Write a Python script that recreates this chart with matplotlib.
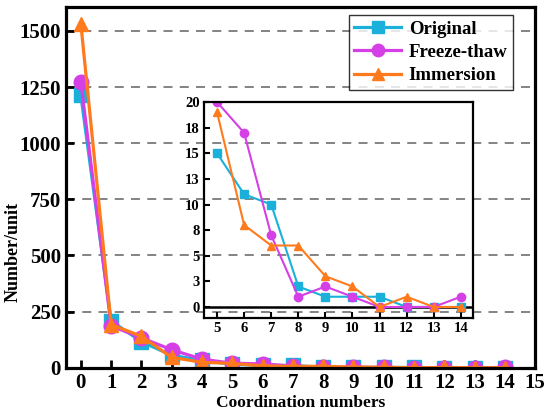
import matplotlib
matplotlib.use('Agg')
import matplotlib.pyplot as plt
import numpy as np

plt.rcParams['font.family'] = ['Liberation Serif', 'DejaVu Serif']
plt.rcParams['font.weight'] = 'bold'

coord = np.arange(0, 15)
original = [1213, 208, 116, 55, 33, 15, 11, 10, 2, 1, 1, 1, 0, 0, 0]
freeze_thaw = [1271, 186, 133, 80, 38, 20, 17, 7, 1, 2, 1, 0, 0, 0, 1]
immersion = [1531, 192, 140, 46, 24, 19, 8, 6, 6, 3, 2, 0, 1, 0, 0]

names = ['Original', 'Freeze-thaw', 'Immersion']
colors = ['#1AB0DA', '#D43FE6', '#FF7A1C']
markers = ['s', 'o', '^']
series = [original, freeze_thaw, immersion]

main_yticks = np.arange(0, 1501, 250)
inset_yticks = np.arange(0, 20.1, 2.5)
inset_ylabels = ['0', '3', '5', '8', '10', '13', '15', '18', '20']

fig = plt.figure(figsize=(5.5, 4.2), dpi=100)
ax = fig.add_axes([0.1195, 0.1245, 0.8535, 0.858])

for ys, c, m, n in zip(series, colors, markers, names):
    ax.plot(coord, ys, color=c, marker=m, markersize=10.5, lw=2.3, label=n)

ax.set_xlim(-0.5, 15)
ax.set_ylim(0, 1605)
ax.set_xticks(np.arange(0, 16))
ax.set_yticks(main_yticks)
ax.yaxis.grid(True, linestyle=(0, (5, 4)), color='#7a7a7a', lw=1.3)
ax.set_axisbelow(True)
ax.tick_params(direction='in', length=6, width=2, labelsize=15)
for s in ax.spines.values():
    s.set_linewidth(2.3)
ax.set_xlabel('Coordination numbers', fontsize=12.5, fontweight='bold', labelpad=2)
ax.set_ylabel('Number/unit', fontsize=13, fontweight='bold')
ax.yaxis.set_label_coords(-0.093, 0.32)

leg = ax.legend(loc='upper right', bbox_to_anchor=(0.953, 0.979), borderaxespad=0,
                fancybox=False, edgecolor='black', prop={'weight': 'bold', 'size': 13.5},
                handlelength=2.5, markerscale=0.85, borderpad=0.3, labelspacing=0.33,
                handletextpad=0.4)
leg.get_frame().set_linewidth(1.0)

# inset zoom of 5-14
ins = fig.add_axes([0.371, 0.243, 0.489, 0.514])
ins.set_facecolor('none')
for ys, c, m in zip(series, colors, markers):
    ins.plot(coord[5:], ys[5:], color=c, marker=m, markersize=6, lw=1.5, clip_on=True)
ins.axhline(0, color='black', lw=1.8, zorder=1)
ins.set_xlim(4.52, 14.45)
ins.set_ylim(-1.07, 20)
ins.set_xticks(np.arange(5, 15))
ins.set_yticks(inset_yticks)
ins.set_yticklabels(inset_ylabels)
ins.tick_params(direction='in', length=4, width=1.5, labelsize=10.5, pad=3)
for s in ins.spines.values():
    s.set_linewidth(1.6)

fig.savefig('out.png', dpi=100)
